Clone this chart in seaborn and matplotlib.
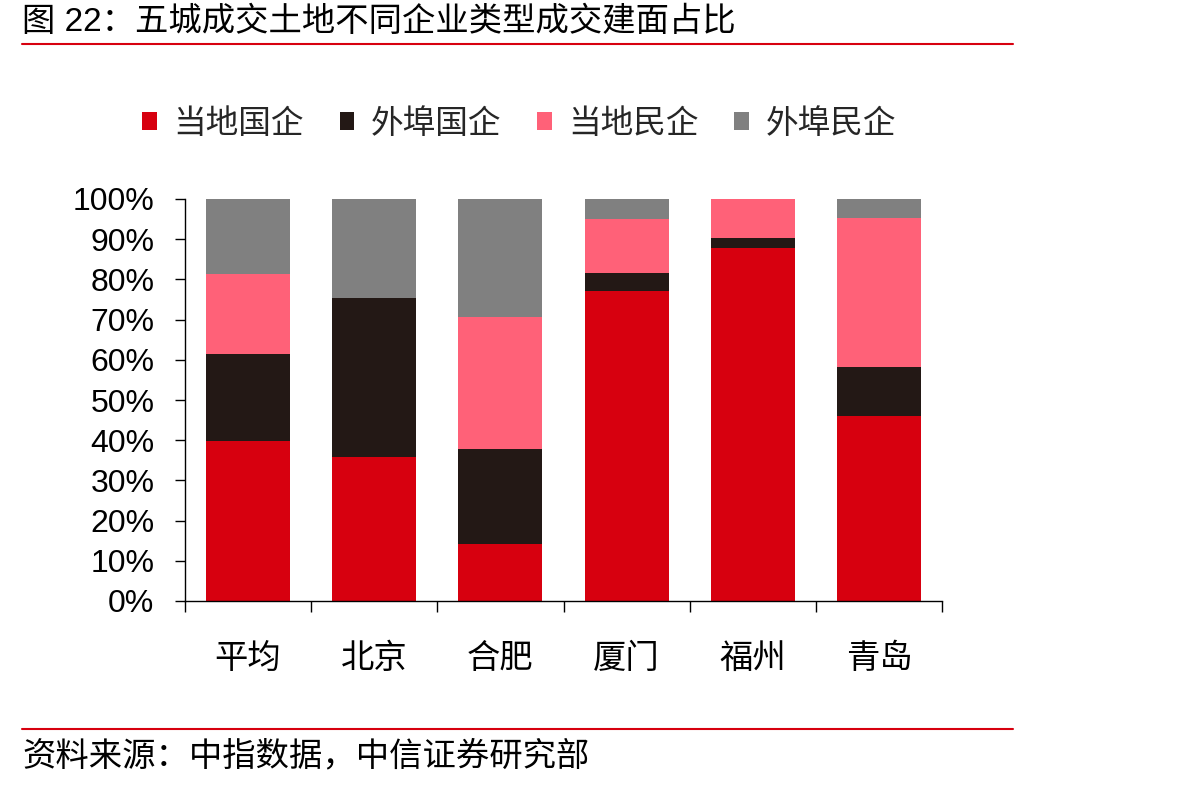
import numpy as np
import pandas as pd
import matplotlib
matplotlib.use('Agg')
import matplotlib.pyplot as plt
import seaborn as sns
from matplotlib.patches import Patch
from matplotlib.lines import Line2D
from matplotlib.ticker import FixedLocator, PercentFormatter

# Data (% of built area)
cities = ['平均', '北京', '合肥', '厦门', '福州', '青岛']
local_soe = [39.8, 35.8, 14.2, 77.1, 87.8, 46.0]
outside_soe = [21.6, 39.6, 23.6, 4.5, 2.5, 12.2]
local_private = [19.9, 0.0, 32.8, 13.4, 9.7, 37.1]
outside_private = [18.7, 24.6, 29.4, 5.0, 0.0, 4.7]

series_names = ['当地国企', '外埠国企', '当地民企', '外埠民企']
colors = ['#D7000F', '#231815', '#FF6178', '#808080']

sns.set_theme(style='white')
plt.rcParams['font.family'] = ['Liberation Sans', 'Noto Sans CJK SC', 'DejaVu Sans']

df = pd.DataFrame({
    'city': cities,
    series_names[0]: local_soe,
    series_names[1]: outside_soe,
    series_names[2]: local_private,
    series_names[3]: outside_private,
})
# cumulative tops, drawn back to front
cum = df[series_names].cumsum(axis=1)

fig = plt.figure(figsize=(11.94, 7.89), dpi=100)
ax = fig.add_axes([185 / 1194, 1 - 601 / 789, (942 - 185) / 1194, (601 - 199) / 789])

for name, col in reversed(list(zip(series_names, colors))):
    sns.barplot(x=df['city'], y=cum[name], color=col, width=0.667,
                saturation=1, linewidth=0, ax=ax)

ax.set_ylim(0, 100)
ax.set_xlim(-0.5, len(cities) - 0.5)
ax.set_yticks(np.arange(0, 101, 10))
ax.yaxis.set_major_formatter(PercentFormatter(decimals=0))
ax.set_xlabel('')
ax.set_ylabel('')

for s in ['top', 'right']:
    ax.spines[s].set_visible(False)
for s in ['left', 'bottom']:
    ax.spines[s].set_color('black')
    ax.spines[s].set_linewidth(1.0)

ax.tick_params(axis='y', direction='out', length=7, width=1, color='black',
               left=True, labelsize=23, pad=15, labelcolor='black')
ax.tick_params(axis='x', which='major', length=0, labelsize=24, pad=31,
               labelcolor='black')
ax.xaxis.set_minor_locator(FixedLocator(np.arange(-0.5, len(cities), 1.0)))
ax.tick_params(axis='x', which='minor', direction='out', length=8, width=1,
               color='black', bottom=True)

handles = [Patch(facecolor=c, edgecolor='none') for c in colors]
fig.legend(handles, series_names, loc='center', ncol=4, frameon=False,
           bbox_to_anchor=(519 / 1194, 1 - 124 / 789), fontsize=23.5,
           handlelength=0.45, handleheight=0.45, handletextpad=0.5,
           columnspacing=1.1)

fig.text(22 / 1194, 1 - 22 / 789, '图 22：五城成交土地不同企业类型成交建面占比',
         fontsize=24, va='center', ha='left', color='black')
fig.text(22 / 1194, 1 - 757 / 789, '资料来源：中指数据，中信证券研究部',
         fontsize=24, va='center', ha='left', color='black')
fig.add_artist(Line2D([22 / 1194, 1013 / 1194], [1 - 44 / 789] * 2,
                      color='#D7000F', linewidth=1.5))
fig.add_artist(Line2D([22 / 1194, 1013 / 1194], [1 - 729 / 789] * 2,
                      color='#D7000F', linewidth=1.5))

fig.savefig('out.png', dpi=100)
